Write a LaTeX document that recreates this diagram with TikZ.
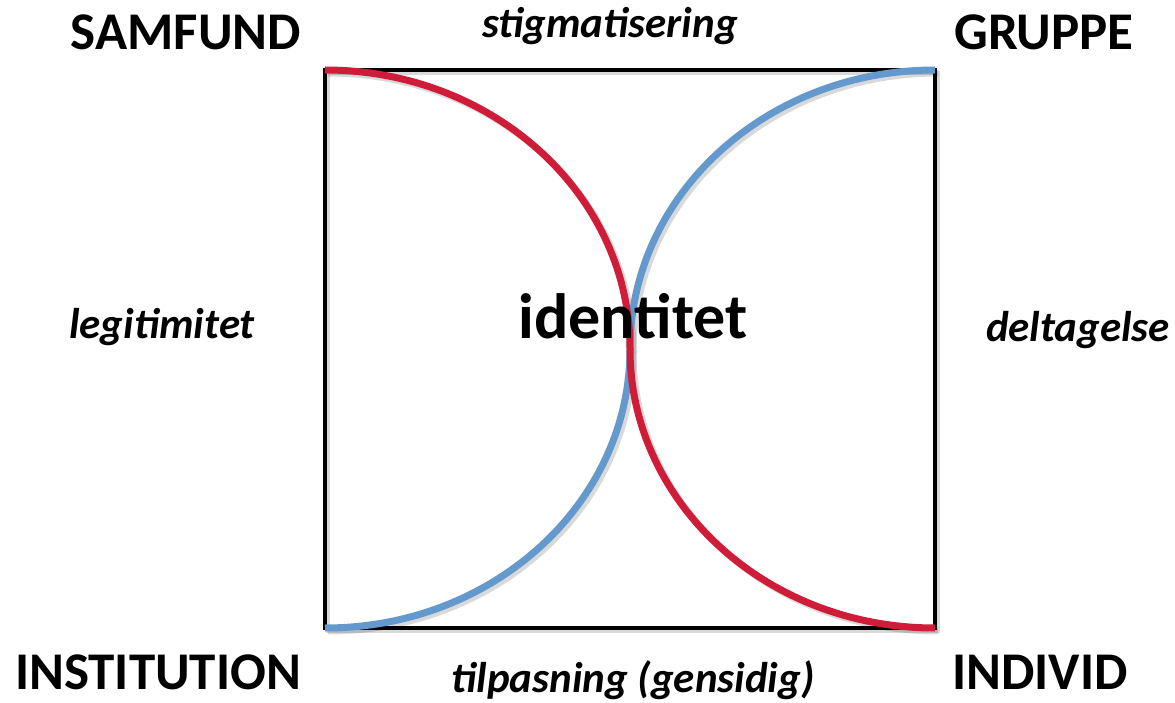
\documentclass[tikz,border=0pt]{standalone}
\usepackage{fontspec}
\setmainfont{Carlito}
\definecolor{arcred}{RGB}{207,29,57}
\definecolor{arcblue}{RGB}{99,153,204}
\begin{document}
\begin{tikzpicture}[x=1pt,y=-1pt,
  corner/.style={font=\bfseries\fontsize{53}{56}\selectfont, inner sep=0pt, anchor=base},
  side/.style={font=\bfseries\itshape\fontsize{43}{46}\selectfont, inner sep=0pt, anchor=base},
  frame/.style={line width=3.5pt, line join=miter},
  arcline/.style={line width=7pt},
  shade/.style={line width=7pt, black, opacity=0.15}]
\useasboundingbox (0,0) rectangle (1175,703);

% corners of the square and the meeting point of the arcs
\coordinate (tl) at (325,70);
\coordinate (tr) at (935,70);
\coordinate (bl) at (325,628);
\coordinate (br) at (935,628);
\coordinate (mid) at (630,349);

% soft shadows
\draw[frame, black, opacity=0.15] ([shift={(3,3)}]tl) rectangle ([shift={(3,3)}]br);
\draw[shade] ([shift={(3,3)}]tl) arc[start angle=270, end angle=360, x radius=305, y radius=279];
\draw[shade] ([shift={(3,3)}]mid) arc[start angle=180, end angle=90, x radius=305, y radius=279];
\draw[shade] ([shift={(3,3)}]tr) arc[start angle=270, end angle=180, x radius=305, y radius=279];
\draw[shade] ([shift={(3,3)}]mid) arc[start angle=0, end angle=90, x radius=305, y radius=279];

% square frame
\draw[frame] (tl) rectangle (br);

% blue arcs: top-right to bottom-left
\draw[arcline, arcblue] (tr) arc[start angle=270, end angle=180, x radius=305, y radius=279];
\draw[arcline, arcblue] (mid) arc[start angle=0, end angle=90, x radius=305, y radius=279];
% red arcs: top-left to bottom-right
\draw[arcline, arcred] (tl) arc[start angle=270, end angle=360, x radius=305, y radius=279];
\draw[arcline, arcred] (mid) arc[start angle=180, end angle=90, x radius=305, y radius=279];

% corner labels
\node[corner] (samfund) at (186,50) {SAMFUND};
\node[corner] (gruppe) at (1044,50) {GRUPPE};
\node[corner] (institution) at (158,689) {INSTITUTION};
\node[corner] (individ) at (1040,689) {INDIVID};

% side labels
\node[side] (stig) at (610,38) {stigmatisering};
\node[side] (legit) at (162,338) {legitimitet};
\node[side] (delta) at (1078,341) {deltagelse};
\node[side] (tilpas) at (633,692) {tilpasning (gensidig)};

% centre label
\node[font=\bfseries\fontsize{64}{68}\selectfont, inner sep=0pt, anchor=base] (ident) at (633,338) {identitet};
\end{tikzpicture}
\end{document}
